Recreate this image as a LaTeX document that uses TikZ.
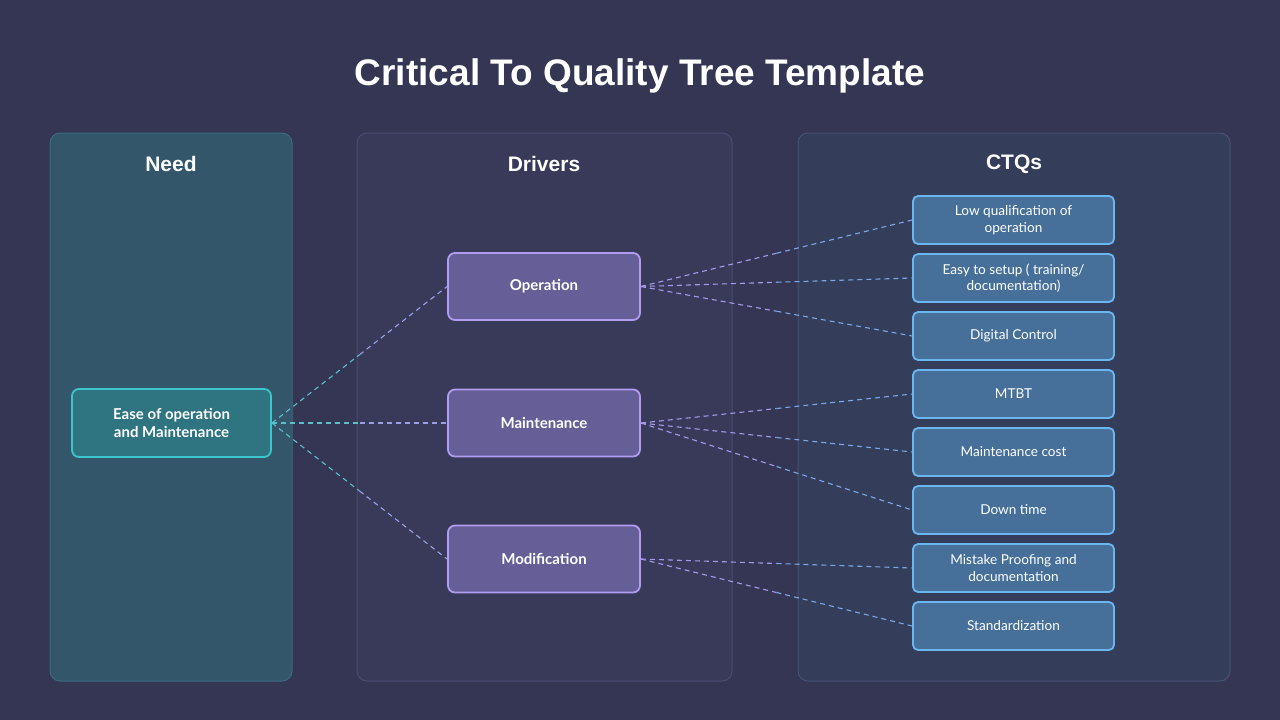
\documentclass[tikz,border=0pt]{standalone}
\usepackage{fontspec}
\setmainfont{Liberation Sans}
\newfontfamily\nodefont{Lato}
\usetikzlibrary{calc}
\definecolor{bgc}{HTML}{343653}
\definecolor{needfill}{HTML}{33566A}
\definecolor{needline}{HTML}{3B6B7E}
\definecolor{drvfill}{HTML}{393A5A}
\definecolor{drvline}{HTML}{4A4C70}
\definecolor{ctqfill}{HTML}{343D5A}
\definecolor{ctqline}{HTML}{465174}
\definecolor{nboxfill}{HTML}{2E7481}
\definecolor{nboxline}{HTML}{3CC6CB}
\definecolor{dboxfill}{HTML}{665E97}
\definecolor{dboxline}{HTML}{B09CF0}
\definecolor{cboxfill}{HTML}{46709A}
\definecolor{cboxline}{HTML}{6CB6EF}
\definecolor{tealdash}{HTML}{5BBFCB}
\definecolor{purpdash}{HTML}{A79AEC}
\definecolor{bluedash}{HTML}{7AA8EA}
\tikzset{
  x=1pt,y=-1pt,
  panel/.style={rounded corners=10pt, line width=1pt},
  heading/.style={text=white, font=\fontsize{21}{25}\selectfont\bfseries},
  needbox/.style={draw=nboxline, fill=nboxfill, line width=1.8pt, rounded corners=7pt,
    minimum width=199pt, minimum height=68pt, text=white, align=center,
    font=\nodefont\fontsize{15}{18}\selectfont\bfseries},
  drvbox/.style={draw=dboxline, fill=dboxfill, line width=1.8pt, rounded corners=7pt,
    minimum width=192pt, minimum height=67pt, text=white, align=center,
    font=\nodefont\fontsize{15}{18}\selectfont\bfseries},
  ctqbox/.style={draw=cboxline, fill=cboxfill, line width=1.8pt, rounded corners=5pt,
    minimum width=201pt, minimum height=48pt, text=white, align=center,
    font=\nodefont\fontsize{13.6}{16.5}\selectfont, inner sep=2pt},
  conn/.style={dash pattern=on 5pt off 4pt, line width=1.1pt},
}
\begin{document}
\begin{tikzpicture}
\fill[bgc] (0,0) rectangle (1280,720);
\useasboundingbox (0,0) rectangle (1280,720);

\node[text=white, font=\fontsize{37}{44}\selectfont\bfseries] (title) at (640,76) {Critical To Quality Tree Template};

\draw[panel, draw=needline, fill=needfill] (50,133) rectangle (292,681);
\draw[panel, draw=drvline, fill=drvfill] (357,133) rectangle (732,681);
\draw[panel, draw=ctqline, fill=ctqfill] (798,133) rectangle (1230,681);

\node[heading] (hneed) at (171,164) {Need};
\node[heading] (hdrv) at (544,164) {Drivers};
\node[heading] (hctq) at (1014,164) {CTQs};

\node[needbox] (need) at (171.5,423) {Ease of operation\\and Maintenance};

\node[drvbox] (op) at (544,286.5) {Operation};
\node[drvbox] (mt) at (544,423) {Maintenance};
\node[drvbox] (md) at (544,559) {Modification};

\node[ctqbox] (c1) at (1013.5,220) {Low qualification of\\operation};
\node[ctqbox] (c2) at (1013.5,278) {Easy to setup ( training/\\documentation)};
\node[ctqbox] (c3) at (1013.5,336) {Digital Control};
\node[ctqbox] (c4) at (1013.5,394) {MTBT};
\node[ctqbox] (c5) at (1013.5,452) {Maintenance cost};
\node[ctqbox] (c6) at (1013.5,510) {Down time};
\node[ctqbox] (c7) at (1013.5,568) {Mistake Proofing and\\documentation};
\node[ctqbox] (c8) at (1013.5,626) {Standardization};

% need -> drivers
\foreach \d in {op,mt,md}{
  \draw[conn, tealdash] (need.east) -- ($(need.east)!0.5!(\d.west)$);
  \draw[conn, purpdash!80!tealdash] ($(need.east)!0.5!(\d.west)$) -- (\d.west);
}
% drivers -> ctqs
\foreach \d/\c in {op/c1,op/c2,op/c3,mt/c4,mt/c5,mt/c6,md/c7,md/c8}{
  \draw[conn, purpdash] (\d.east) -- ($(\d.east)!0.5!(\c.west)$);
  \draw[conn, bluedash] ($(\d.east)!0.5!(\c.west)$) -- (\c.west);
}
\end{tikzpicture}
\end{document}
